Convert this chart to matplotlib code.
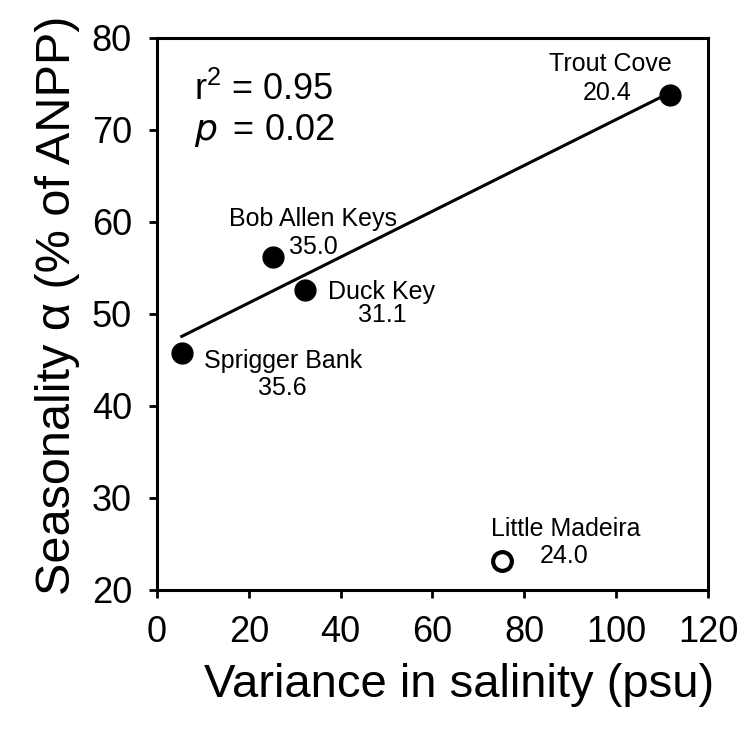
import numpy as np
import matplotlib
matplotlib.use('Agg')
import matplotlib.pyplot as plt

plt.rcParams['font.family'] = ['Liberation Sans', 'DejaVu Sans']

# sites used in the regression (filled)
sites = ["Sprigger Bank", "Bob Allen Keys", "Duck Key", "Trout Cove"]
sal_var = [5.4, 25.3, 32.2, 111.8]
season = [45.8, 56.2, 52.6, 73.8]
mean_sal = ["35.6", "35.0", "31.1", "20.4"]

# outlier (open)
out_site = "Little Madeira"
out_var = [75.2]
out_season = [23.1]
out_sal = "24.0"

# label offsets in pixels (name, value)
name_off = [(101, -8), (40, 38), (77, -2), (-60, 31)]
val_off = [(101, -35), (40, 10), (77, -25), (-63, 2)]

fig = plt.figure(figsize=(7.45, 7.33), dpi=100)
ax = fig.add_axes([0.2107, 0.1951, 0.7396, 0.7531])

# regression line
coef = np.polyfit(sal_var, season, 1)
xl = np.array([min(sal_var), max(sal_var)])
ax.plot(xl, np.polyval(coef, xl), color='black', lw=2.2, zorder=2)

ax.plot(sal_var, season, 'o', color='black', ms=15, zorder=3)
ax.plot(out_var, out_season, 'o', mfc='white', mec='black', mew=3, ms=13.5, zorder=3)

for i in range(len(sites)):
    ax.annotate(sites[i], (sal_var[i], season[i]), xytext=name_off[i],
                textcoords='offset pixels', ha='center', va='center', fontsize=18)
    ax.annotate(mean_sal[i], (sal_var[i], season[i]), xytext=val_off[i],
                textcoords='offset pixels', ha='center', va='center', fontsize=18)
ax.annotate(out_site, (out_var[0], out_season[0]), xytext=(63, 32),
            textcoords='offset pixels', ha='center', va='center', fontsize=18)
ax.annotate(out_sal, (out_var[0], out_season[0]), xytext=(62, 5),
            textcoords='offset pixels', ha='center', va='center', fontsize=18)

ax.text(0.067, 0.906, r"r$^{\mathregular{2}}$ = 0.95", transform=ax.transAxes,
        fontsize=26, va='center')
ax.text(0.067, 0.833, r"$\it{p}\,$ = 0.02", transform=ax.transAxes,
        fontsize=26, va='center')

ax.set_xlim(0, 120)
ax.set_ylim(20, 80)
ax.set_xticks(range(0, 121, 20))
ax.set_yticks(range(20, 81, 10))
ax.tick_params(direction='out', length=6, width=2, labelsize=26, pad=12)
for s in ax.spines.values():
    s.set_linewidth(2.2)

ax.set_xlabel("Variance in salinity (psu)", fontsize=34)
ax.set_ylabel("Seasonality α (% of ANPP)", fontsize=35)
ax.xaxis.set_label_coords(0.548, -0.133)
ax.yaxis.set_label_coords(-0.14, 0.516)

fig.savefig("out.png", dpi=100)
